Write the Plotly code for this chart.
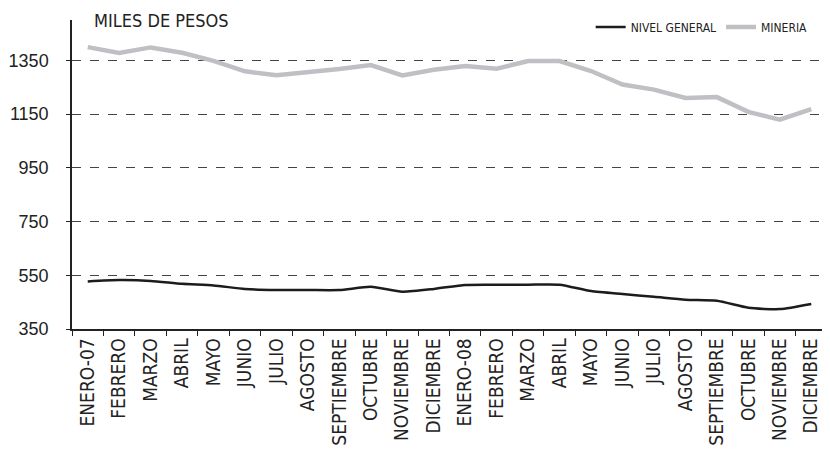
import plotly.graph_objects as go

meses = ["ENERO-07", "FEBRERO", "MARZO", "ABRIL", "MAYO", "JUNIO", "JULIO", "AGOSTO",
         "SEPTIEMBRE", "OCTUBRE", "NOVIEMBRE", "DICIEMBRE",
         "ENERO-08", "FEBRERO", "MARZO", "ABRIL", "MAYO", "JUNIO", "JULIO", "AGOSTO",
         "SEPTIEMBRE", "OCTUBRE", "NOVIEMBRE", "DICIEMBRE"]

nivel_general = [527, 532, 529, 518, 512, 499, 495, 495, 495, 507, 489, 499,
                 514, 515, 515, 515, 491, 480, 470, 459, 455, 429, 424, 443]

mineria = [1399, 1377, 1398, 1378, 1348, 1309, 1294, 1304, 1318, 1332, 1294, 1315,
           1329, 1319, 1347, 1347, 1310, 1260, 1241, 1210, 1213, 1158, 1129, 1168]

y_ticks = [350, 550, 750, 950, 1150, 1350]

x = list(range(len(meses)))

NARROW = "DejaVu Sans Condensed"
TXT = "#222222"

fig = go.Figure()
fig.add_trace(go.Scatter(x=x, y=nivel_general, name="NIVEL GENERAL", mode="lines",
                         line=dict(color="#1c1c1c", width=2.5, shape="spline", smoothing=0.6)))
fig.add_trace(go.Scatter(x=x, y=mineria, name="MINERIA", mode="lines",
                         line=dict(color="#c0c0c4", width=4.5)))

# page body has an 8px margin, so the figure is sized to fill the rest of the window
fig.update_layout(
    width=822, height=443,
    margin=dict(l=64, r=3, t=12, b=122),
    paper_bgcolor="white", plot_bgcolor="white",
    showlegend=True,
    legend=dict(orientation="h", x=0.981, xanchor="right", y=0.977, yanchor="middle",
                font=dict(family=NARROW, size=12, color=TXT),
                bgcolor="rgba(0,0,0,0)", itemwidth=30, tracegroupgap=0,
                borderwidth=0),
    annotations=[dict(text="MILES DE PESOS", xref="paper", yref="paper",
                      x=0.026, y=1.0, xanchor="left", yanchor="middle", showarrow=False,
                      font=dict(family=NARROW, size=18, color=TXT))],
)

fig.update_xaxes(
    range=[-0.5, len(meses) - 0.5],
    tickmode="array", tickvals=x, ticktext=meses, tickangle=-90,
    ticks="", showgrid=False, zeroline=False, automargin=False,
    showline=True, linecolor="#222222", linewidth=1.5,
    tickfont=dict(family=NARROW, size=19, color=TXT),
    minor=dict(tickmode="array", tickvals=[i - 0.5 for i in range(len(meses) + 1)],
               ticks="outside", ticklen=5, tickcolor="#222222", tickwidth=1.2, showgrid=False),
)

fig.update_yaxes(
    range=[350, 1500],
    tickmode="array", tickvals=y_ticks,
    ticks="outside", ticklen=4, tickcolor="#222222", ticklabelstandoff=14,
    showgrid=True, gridcolor="#444444", griddash="dash", gridwidth=1,
    zeroline=False, automargin=False,
    showline=True, linecolor="#222222", linewidth=1.5,
    tickfont=dict(family="Liberation Sans", size=18, color=TXT),
)

fig.write_html("out.html")
